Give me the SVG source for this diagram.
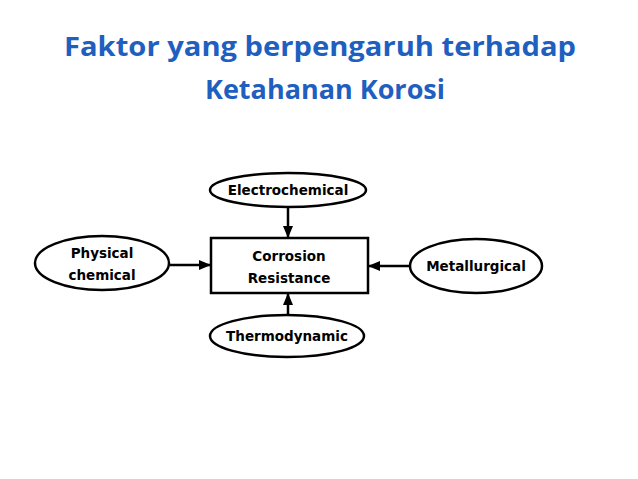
<svg xmlns="http://www.w3.org/2000/svg" width="638" height="479" viewBox="0 0 638 479">
<style>
.t{font-family:"Open Sans","Noto Sans",sans-serif;font-weight:bold;font-size:26px;fill:#1f5fbf;text-anchor:middle}
.n{fill:#fff;stroke:#000;stroke-width:2.5}
.l{font-family:"DejaVu Sans",sans-serif;font-weight:bold;font-size:13.5px;fill:#000;text-anchor:middle}
.c{stroke:#000;stroke-width:2.5;fill:none;marker-end:url(#a)}
</style>
<defs><marker id="a" markerWidth="12" markerHeight="10" refX="12" refY="5" orient="auto" markerUnits="userSpaceOnUse" viewBox="0 0 12 10"><path d="M0,0L12,5L0,10z" fill="#000"/></marker></defs>
<rect width="638" height="479" fill="#fff"/>
<text class="t" x="320" y="56" textLength="512" lengthAdjust="spacingAndGlyphs">Faktor yang berpengaruh terhadap</text>
<text class="t" x="325" y="99" textLength="240" lengthAdjust="spacingAndGlyphs">Ketahanan Korosi</text>
<g id="connectors">
<line class="c" x1="288" y1="207" x2="288" y2="238"/>
<line class="c" x1="288" y1="315" x2="288" y2="293"/>
<line class="c" x1="170" y1="265" x2="211" y2="265"/>
<line class="c" x1="410" y1="266" x2="368" y2="266"/>
</g>
<g id="resistance"><rect class="n" x="211" y="238" width="157" height="55"/><text class="l" x="289" y="261">Corrosion</text><text class="l" x="289" y="283">Resistance</text></g>
<g id="electrochemical"><ellipse class="n" cx="288" cy="190" rx="78" ry="17"/><text class="l" x="288" y="195">Electrochemical</text></g>
<g id="physical"><ellipse class="n" cx="102" cy="263" rx="67" ry="27"/><text class="l" x="102" y="258">Physical</text><text class="l" x="102" y="280">chemical</text></g>
<g id="metallurgical"><ellipse class="n" cx="476" cy="266" rx="66" ry="27"/><text class="l" x="476" y="271">Metallurgical</text></g>
<g id="thermodynamic"><ellipse class="n" cx="287" cy="336" rx="77" ry="21"/><text class="l" x="287" y="341">Thermodynamic</text></g>
</svg>
